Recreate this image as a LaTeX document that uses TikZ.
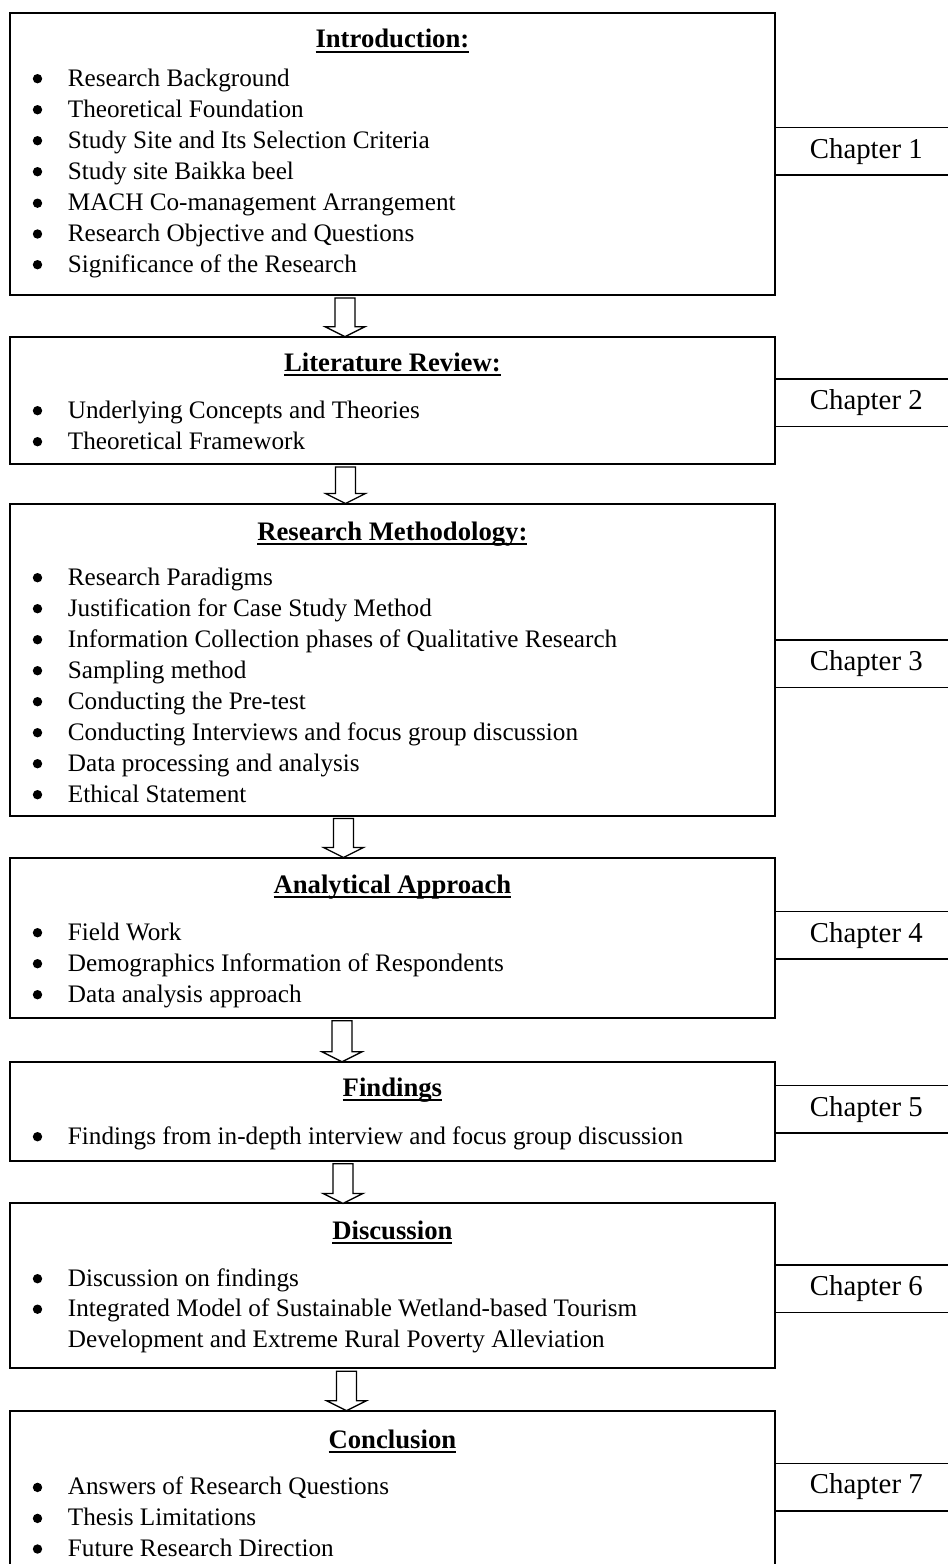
\documentclass[tikz,border=0pt]{standalone}
\usepackage{fontspec}
\setmainfont{Liberation Serif}
\newcommand{\ultext}[1]{\setbox0=\hbox{#1}\rlap{\rule[-5pt]{\wd0}{2pt}}\box0}
% bullet item: name, baseline y, text
\newcommand{\bitem}[3]{%
  \node[item] (#1) at (67.7,#2) {#3};
  \fill[black] (37.5,#2-7.3) circle (4.7);}
\newcommand{\blockarrow}[3]{%
  \draw[arrowline]
    ([xshift=#3pt-10pt,yshift=-3pt]#1.south) --
    ([xshift=#3pt-10pt,yshift=10pt]#2.north) --
    ([xshift=#3pt-20pt,yshift=10pt]#2.north) --
    ([xshift=#3pt]#2.north) --
    ([xshift=#3pt+20pt,yshift=10pt]#2.north) --
    ([xshift=#3pt+10pt,yshift=10pt]#2.north) --
    ([xshift=#3pt+10pt,yshift=-3pt]#1.south) -- cycle;}
\begin{document}
\begin{tikzpicture}[x=1pt,y=-1pt,
  mainbox/.style={draw, line width=2pt, rectangle, inner sep=0pt, outer sep=0pt, minimum width=765.8pt, anchor=north west},
  chapbox/.style={draw, line width=1.5pt, rectangle, inner sep=0pt, outer sep=0pt, minimum width=182pt, minimum height=47.5pt, anchor=north west, font=\fontsize{28.8}{32}\selectfont},
  titletext/.style={anchor=base, inner sep=0pt, font=\fontsize{26.7}{31}\selectfont\bfseries},
  item/.style={anchor=base west, inner sep=0pt, font=\fontsize{25.2}{31}\selectfont},
  arrowline/.style={draw, line width=1.3pt, line join=miter, fill=white}]
\fill[white] (0,0) rectangle (948,1564);
\useasboundingbox (0,0) rectangle (948,1564);
\clip (0,0) rectangle (948,1564);

% Box 1
\node[mainbox, minimum height=282.3pt] (b1) at (9.5,12.7) {};
\node[titletext] (t1) at (392.4,47.5) {\ultext{Introduction:}};
\bitem{i11}{86}{Research Background}
\bitem{i12}{117}{Theoretical Foundation}
\bitem{i13}{148}{Study Site and Its Selection Criteria}
\bitem{i14}{179}{Study site Baikka beel}
\bitem{i15}{210.5}{MACH Co-management Arrangement}
\bitem{i16}{241.3}{Research Objective and Questions}
\bitem{i17}{272}{Significance of the Research}
\node[chapbox] (c1) at (775.3,127.7) {Chapter 1};

% Box 2
\node[mainbox, minimum height=127.3pt] (b2) at (9.5,336.7) {};
\node[titletext] (t2) at (392.4,371) {\ultext{Literature Review:}};
\bitem{i21}{418}{Underlying Concepts and Theories}
\bitem{i22}{449}{Theoretical Framework}
\node[chapbox] (c2) at (775.3,379) {Chapter 2};

% Box 3
\node[mainbox, minimum height=312pt] (b3) at (9.5,503.5) {};
\node[titletext] (t3) at (392.4,540) {\ultext{Research Methodology:}};
\bitem{i31}{585}{Research Paradigms}
\bitem{i32}{616}{Justification for Case Study Method}
\bitem{i33}{647}{Information Collection phases of Qualitative Research}
\bitem{i34}{678}{Sampling method}
\bitem{i35}{709}{Conducting the Pre-test}
\bitem{i36}{740}{Conducting Interviews and focus group discussion}
\bitem{i37}{771}{Data processing and analysis}
\bitem{i38}{802}{Ethical Statement}
\node[chapbox] (c3) at (775.3,640) {Chapter 3};

% Box 4
\node[mainbox, minimum height=160.2pt] (b4) at (9.5,857.5) {};
\node[titletext] (t4) at (392.4,893) {\ultext{Analytical Approach}};
\bitem{i41}{940}{Field Work}
\bitem{i42}{971}{Demographics Information of Respondents}
\bitem{i43}{1002}{Data analysis approach}
\node[chapbox] (c4) at (775.3,911.4) {Chapter 4};

% Box 5
\node[mainbox, minimum height=98.9pt] (b5) at (9.5,1061.8) {};
\node[titletext] (t5) at (392.4,1096) {\ultext{Findings}};
\bitem{i51}{1144}{Findings from in-depth interview and focus group discussion}
\node[chapbox] (c5) at (775.3,1085.7) {Chapter 5};

% Box 6
\node[mainbox, minimum height=164.9pt] (b6) at (9.5,1203.4) {};
\node[titletext] (t6) at (392.4,1239) {\ultext{Discussion}};
\bitem{i61}{1286}{Discussion on findings}
\bitem{i62}{1316.5}{Integrated Model of Sustainable Wetland-based Tourism}
\node[item] (i63) at (67.7,1347) {Development and Extreme Rural Poverty Alleviation};
\node[chapbox] (c6) at (775.3,1265) {Chapter 6};

% Box 7
\node[mainbox, minimum height=200pt] (b7) at (9.5,1410.7) {};
\node[titletext] (t7) at (392.4,1448) {\ultext{Conclusion}};
\bitem{i71}{1494.7}{Answers of Research Questions}
\bitem{i72}{1525.7}{Thesis Limitations}
\bitem{i73}{1556.3}{Future Research Direction}
\node[chapbox] (c7) at (775.3,1463.3) {Chapter 7};

% Arrows
\blockarrow{b1}{b2}{-47.4}
\blockarrow{b2}{b3}{-46.9}
\blockarrow{b3}{b4}{-48.9}
\blockarrow{b4}{b5}{-50.4}
\blockarrow{b5}{b6}{-49.4}
\blockarrow{b6}{b7}{-45.9}
\end{tikzpicture}
\end{document}
